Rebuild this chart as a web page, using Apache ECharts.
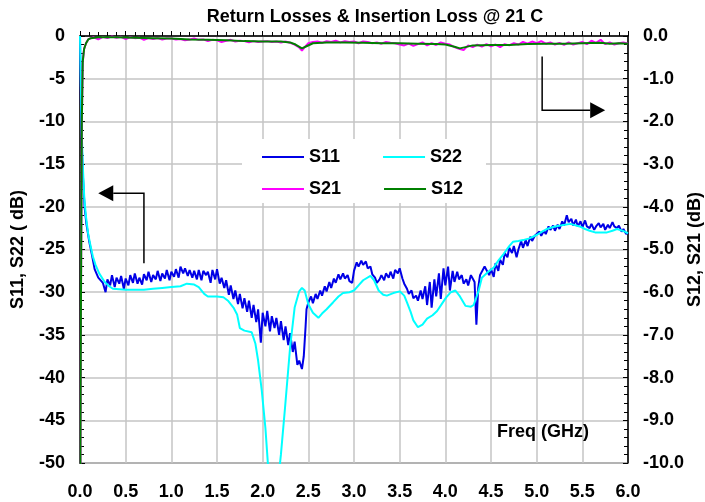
<!DOCTYPE html>
<html><head><meta charset="utf-8">
<script src="https://cdn.jsdelivr.net/npm/echarts@6/dist/echarts.min.js"></script>
<style>html,body{margin:0;padding:0;background:#fff}#c{width:705px;height:502px}</style>
</head><body><div id="c"></div><script>
// Frequency (GHz), dB — left axis series
const s11 = [[0,0],[0.01,-8],[0.02,-13],[0.03,-16],[0.05,-20],[0.07,-22],[0.1,-24],[0.13,-25.6],[0.16,-27.3],[0.2,-28.3],[0.25,-28.9],[0.28,-30],[0.3,-28.5],[0.33,-29.2],[0.35,-28],[0.38,-29.4],[0.4,-28.3],[0.43,-29],[0.45,-28.1],[0.48,-29.6],[0.5,-28.4],[0.53,-29.2],[0.55,-28],[0.58,-28.9],[0.6,-27.8],[0.63,-29],[0.65,-28.3],[0.68,-29.1],[0.7,-27.9],[0.73,-28.6],[0.75,-27.6],[0.78,-28.8],[0.8,-28],[0.83,-28.5],[0.85,-27.5],[0.88,-28.7],[0.9,-27.8],[0.93,-28.4],[0.95,-27.4],[0.98,-28.6],[1,-27.6],[1.03,-28.2],[1.05,-27.3],[1.08,-28.3],[1.1,-27],[1.13,-27.8],[1.15,-27.2],[1.18,-28.1],[1.2,-27.4],[1.23,-28.3],[1.25,-27.5],[1.28,-28.5],[1.3,-27.4],[1.33,-28.6],[1.35,-27.5],[1.38,-28],[1.4,-27.6],[1.43,-28.9],[1.45,-27.4],[1.48,-28.5],[1.5,-27.3],[1.53,-29],[1.55,-28.3],[1.58,-29.5],[1.6,-28.6],[1.63,-30.3],[1.65,-29.2],[1.68,-30.8],[1.7,-29.8],[1.73,-31.4],[1.75,-30.2],[1.78,-31.9],[1.8,-30.7],[1.83,-32.3],[1.85,-31],[1.88,-33],[1.9,-31.5],[1.93,-33.5],[1.95,-32],[1.98,-35.9],[2,-32.4],[2.03,-34],[2.05,-32.2],[2.08,-34.6],[2.1,-32.8],[2.13,-34.2],[2.15,-33],[2.18,-35],[2.2,-33.4],[2.23,-35.6],[2.25,-34],[2.28,-36.2],[2.3,-34.8],[2.33,-37],[2.35,-35.8],[2.38,-38.5],[2.4,-38],[2.43,-39],[2.45,-37.5],[2.47,-34],[2.48,-32],[2.5,-31.2],[2.53,-30.5],[2.55,-31.3],[2.58,-30.2],[2.6,-30.8],[2.63,-29.8],[2.65,-30.4],[2.68,-29.3],[2.7,-29.9],[2.73,-28.8],[2.75,-29.5],[2.78,-28.4],[2.8,-28.9],[2.83,-27.9],[2.85,-28.5],[2.88,-27.8],[2.9,-28.4],[2.93,-28],[2.95,-28.7],[2.98,-28.9],[3,-27.5],[3.03,-26.5],[3.05,-27],[3.08,-26.3],[3.1,-26.8],[3.13,-26.4],[3.15,-27.2],[3.18,-27],[3.2,-27.9],[3.23,-28.3],[3.25,-28.9],[3.28,-28.5],[3.3,-28],[3.33,-28.6],[3.35,-27.8],[3.38,-28.3],[3.4,-27.6],[3.43,-28.4],[3.45,-27.4],[3.48,-27.8],[3.5,-27.2],[3.53,-28.4],[3.55,-29],[3.58,-29.6],[3.6,-30.2],[3.63,-29.8],[3.65,-30.7],[3.68,-30.4],[3.7,-31],[3.73,-29.8],[3.75,-30.8],[3.78,-29.3],[3.8,-31.5],[3.83,-28.8],[3.85,-31.8],[3.88,-28.5],[3.9,-30.5],[3.93,-27.8],[3.95,-30.8],[3.98,-27.2],[4,-29.2],[4.03,-27],[4.05,-29.8],[4.08,-27.5],[4.1,-28.8],[4.13,-27.6],[4.15,-28.5],[4.18,-28],[4.2,-29],[4.23,-28.5],[4.25,-29.2],[4.28,-28],[4.3,-27.8],[4.32,-28.8],[4.34,-33.8],[4.36,-29.5],[4.38,-28],[4.4,-27.8],[4.43,-27],[4.45,-26.9],[4.48,-28],[4.5,-27.3],[4.53,-28.2],[4.55,-26.6],[4.58,-27.5],[4.6,-26.2],[4.63,-26.8],[4.65,-25.4],[4.68,-25.9],[4.7,-24.8],[4.73,-25.4],[4.75,-24.6],[4.78,-25.9],[4.8,-25],[4.83,-24],[4.85,-24.8],[4.88,-23.9],[4.9,-24.6],[4.93,-23.5],[4.95,-24],[4.98,-23.4],[5,-23.6],[5.03,-22.9],[5.05,-23.4],[5.08,-22.8],[5.1,-23.2],[5.13,-22.3],[5.15,-22.7],[5.18,-22.2],[5.2,-22.8],[5.23,-22.1],[5.25,-22.6],[5.28,-21.7],[5.3,-22.2],[5.33,-21],[5.35,-21.8],[5.38,-21.4],[5.4,-22.2],[5.43,-21.5],[5.45,-22.3],[5.48,-21.7],[5.5,-22.4],[5.53,-21.6],[5.55,-22.3],[5.58,-22.5],[5.6,-22],[5.63,-22.7],[5.65,-22.3],[5.68,-21.9],[5.7,-22.4],[5.73,-22],[5.75,-22.7],[5.78,-22.1],[5.8,-22.5],[5.83,-21.8],[5.85,-22.3],[5.88,-22.5],[5.9,-22.2],[5.93,-22.9],[5.95,-22.6],[5.98,-23.2],[6,-23]];
const s22 = [[0,0],[0.005,-3],[0.01,-6],[0.018,-11],[0.03,-15],[0.047,-19],[0.066,-21.2],[0.09,-23.2],[0.11,-24.3],[0.14,-25.8],[0.17,-26.8],[0.21,-27.8],[0.27,-28.8],[0.32,-29.3],[0.36,-29.6],[0.5,-29.7],[0.7,-29.7],[0.8,-29.6],[0.9,-29.5],[1,-29.4],[1.1,-29.3],[1.17,-29],[1.25,-29.1],[1.3,-29.4],[1.36,-30.2],[1.4,-30.5],[1.5,-30.5],[1.57,-30.6],[1.62,-31],[1.68,-31.8],[1.72,-32.6],[1.75,-34.2],[1.8,-34.5],[1.88,-34.7],[1.92,-36],[1.95,-38],[1.99,-41.5],[2.03,-45.9],[2.06,-50.5],[2.1,-54],[2.14,-55],[2.17,-52],[2.2,-49],[2.245,-43.5],[2.3,-36.5],[2.35,-31.8],[2.4,-29.9],[2.43,-29.5],[2.46,-29.8],[2.5,-31.4],[2.55,-32.4],[2.61,-33],[2.65,-32.5],[2.7,-32],[2.77,-31.2],[2.83,-30.5],[2.88,-30.1],[2.95,-30],[3,-29.8],[3.05,-29.2],[3.1,-28.6],[3.18,-28.1],[3.22,-28.6],[3.27,-29.8],[3.32,-30.3],[3.36,-30.4],[3.43,-30.1],[3.5,-29.9],[3.55,-30.4],[3.58,-31.2],[3.62,-32.3],[3.65,-33.3],[3.7,-34.1],[3.75,-33.8],[3.8,-33.1],[3.86,-32.7],[3.91,-32.2],[3.96,-31.4],[4.01,-30.6],[4.06,-30],[4.11,-29.8],[4.16,-30.5],[4.22,-31.6],[4.28,-31.7],[4.31,-31.5],[4.36,-30],[4.4,-28.3],[4.47,-27.6],[4.53,-27.1],[4.58,-26.3],[4.64,-25.5],[4.7,-24.6],[4.74,-24.1],[4.8,-24],[4.85,-23.9],[4.92,-23.7],[5,-23.3],[5.06,-22.9],[5.11,-22.6],[5.2,-22.3],[5.26,-22.2],[5.37,-22],[5.47,-22.3],[5.53,-22.6],[5.58,-22.8],[5.64,-23],[5.7,-23],[5.77,-23],[5.83,-22.8],[5.88,-22.6],[5.94,-22.8],[6,-23.1]];
// right axis series
const s21 = [[0,-12],[0.005,-10],[0.01,-6.5],[0.02,-2],[0.03,-0.6],[0.045,-0.3],[0.066,-0.17],[0.09,-0.08],[0.12,-0.05],[0.15,-0.03],[0.2,-0.08],[0.25,-0.02],[0.3,-0.05],[0.35,-0.01],[0.4,-0.04],[0.45,-0.02],[0.5,-0.07],[0.55,-0.03],[0.6,-0.05],[0.65,-0.04],[0.7,-0.09],[0.75,-0.05],[0.8,-0.07],[0.85,-0.05],[0.9,-0.08],[0.95,-0.06],[1,-0.06],[1.05,-0.08],[1.1,-0.07],[1.15,-0.1],[1.2,-0.08],[1.25,-0.06],[1.3,-0.09],[1.35,-0.08],[1.4,-0.12],[1.45,-0.09],[1.5,-0.1],[1.55,-0.14],[1.6,-0.11],[1.65,-0.09],[1.7,-0.13],[1.75,-0.11],[1.8,-0.12],[1.85,-0.15],[1.9,-0.12],[1.95,-0.14],[2,-0.13],[2.05,-0.12],[2.1,-0.14],[2.15,-0.13],[2.2,-0.15],[2.25,-0.13],[2.3,-0.16],[2.35,-0.2],[2.4,-0.27],[2.43,-0.34],[2.46,-0.26],[2.5,-0.17],[2.55,-0.14],[2.6,-0.13],[2.65,-0.16],[2.7,-0.12],[2.75,-0.14],[2.8,-0.11],[2.85,-0.15],[2.9,-0.12],[2.95,-0.14],[3,-0.13],[3.05,-0.17],[3.1,-0.13],[3.15,-0.14],[3.2,-0.17],[3.25,-0.15],[3.3,-0.18],[3.35,-0.14],[3.4,-0.16],[3.45,-0.17],[3.5,-0.2],[3.55,-0.22],[3.6,-0.18],[3.65,-0.23],[3.7,-0.19],[3.75,-0.15],[3.8,-0.22],[3.85,-0.17],[3.9,-0.21],[3.95,-0.15],[4,-0.18],[4.05,-0.2],[4.1,-0.26],[4.15,-0.3],[4.2,-0.33],[4.25,-0.22],[4.3,-0.26],[4.35,-0.2],[4.4,-0.25],[4.45,-0.19],[4.5,-0.24],[4.55,-0.2],[4.6,-0.26],[4.65,-0.19],[4.7,-0.22],[4.75,-0.17],[4.8,-0.2],[4.85,-0.14],[4.9,-0.18],[4.95,-0.13],[5,-0.17],[5.05,-0.12],[5.1,-0.18],[5.15,-0.15],[5.2,-0.2],[5.25,-0.16],[5.3,-0.21],[5.35,-0.15],[5.4,-0.2],[5.45,-0.17],[5.5,-0.14],[5.55,-0.19],[5.6,-0.11],[5.65,-0.16],[5.7,-0.09],[5.75,-0.19],[5.8,-0.15],[5.85,-0.2],[5.9,-0.17],[5.95,-0.15],[6,-0.18]];
const s12 = [[0,-12],[0.005,-10],[0.01,-6.5],[0.02,-2],[0.03,-0.6],[0.045,-0.3],[0.066,-0.17],[0.09,-0.08],[0.12,-0.05],[0.2,-0.03],[0.4,-0.03],[0.6,-0.04],[0.8,-0.05],[1,-0.06],[1.2,-0.08],[1.4,-0.09],[1.6,-0.1],[1.8,-0.12],[2,-0.13],[2.2,-0.13],[2.3,-0.15],[2.36,-0.2],[2.43,-0.29],[2.48,-0.24],[2.55,-0.17],[2.7,-0.15],[2.9,-0.15],[3.1,-0.16],[3.3,-0.17],[3.5,-0.17],[3.7,-0.18],[3.9,-0.19],[4,-0.2],[4.1,-0.25],[4.16,-0.29],[4.22,-0.26],[4.3,-0.22],[4.5,-0.21],[4.7,-0.21],[4.9,-0.19],[5.1,-0.18],[5.3,-0.18],[5.5,-0.17],[5.7,-0.16],[5.8,-0.18],[5.9,-0.17],[6,-0.18]];
// annotation arrows (GHz, left-axis dB)
const arrowLeft = [[0.70,-26.6],[0.70,-18.4],[0.20,-18.4]];
const arrowRight = [[5.06,-2.4],[5.06,-8.7],[5.75,-8.7]];
const arrows = [arrowLeft, arrowRight];

const FF = 'Arial, "Liberation Sans", sans-serif';
const chart = echarts.init(document.getElementById('c'), null, {renderer:'canvas'});
const lblStyle = {color:'#000', fontWeight:'bold', fontSize:18, fontFamily:FF};
chart.setOption({
  animation:false,
  backgroundColor:'#fff',
  title:{text:'Return Losses & Insertion Loss @ 21 C', left:370, top:3, textAlign:'center',
    textStyle:{color:'#000', fontWeight:'bold', fontSize:18, fontFamily:FF}},
  grid:{left:80, right:77, top:36, bottom:39, show:true, borderColor:'#000', borderWidth:1, backgroundColor:'#fff',
    containLabel:false, outerBoundsMode:'none'},
  legend:[
    {data:['S11','S22'], left:256, top:143, itemWidth:42, itemHeight:14, itemGap:42, itemStyle:{opacity:0}, textStyle:lblStyle, z:5},
    {data:['S21','S12'], left:256, top:175, itemWidth:42, itemHeight:14, itemGap:42, itemStyle:{opacity:0}, textStyle:lblStyle, z:5}
  ],
  graphic:[
    {type:'rect', z:3, shape:{x:242, y:139, width:244, height:64}, style:{fill:'#fff'}},
    {type:'text', z:5, x:497, y:432, style:{text:'Freq (GHz)', fill:'#000', font:'bold 18px '+FF, textVerticalAlign:'middle'}}
  ],
  xAxis:{type:'value', min:0, max:6, interval:0.5,
    axisLine:{lineStyle:{color:'#000', width:1.5}},
    axisTick:{inside:true, length:5, lineStyle:{color:'#000'}},
    minorTick:{show:true, splitNumber:5, length:4, lineStyle:{color:'#000'}},
    splitLine:{show:true, lineStyle:{color:'#c4c4c4', width:1.5}},
    axisLabel:{...lblStyle, margin:20, formatter:v=>v.toFixed(1)}},
  yAxis:[
    {type:'value', min:-50, max:0, interval:5, position:'left',
      name:'S11, S22 ( dB)', nameLocation:'middle', nameGap:53, nameRotate:90, nameTextStyle:lblStyle,
      axisLine:{show:true, lineStyle:{color:'#000', width:1.5}},
      axisTick:{show:true, inside:true, length:5, lineStyle:{color:'#000'}},
      minorTick:{show:true, splitNumber:5, length:4, lineStyle:{color:'#000'}},
      splitLine:{show:true, lineStyle:{color:'#c4c4c4', width:1.5}},
      axisLabel:{...lblStyle, margin:15}},
    {type:'value', min:-10, max:0, interval:1, position:'right',
      name:'S12, S21 (dB)', nameLocation:'middle', nameGap:58, nameRotate:90, nameMoveOverlap:false, nameTextStyle:lblStyle,
      axisLine:{show:true, lineStyle:{color:'#000', width:1.5}},
      axisTick:{show:true, inside:true, length:5, lineStyle:{color:'#000'}},
      minorTick:{show:true, splitNumber:5, length:4, lineStyle:{color:'#000'}},
      splitLine:{show:false},
      axisLabel:{...lblStyle, margin:15, formatter:v=>v.toFixed(1)}}
  ],
  series:[
    {name:'S11', type:'line', data:s11, yAxisIndex:0, symbol:'none', lineStyle:{color:'#0000e6', width:2}, itemStyle:{color:'#0000e6'}, z:2},
    {name:'S22', type:'line', data:s22, yAxisIndex:0, symbol:'none', lineStyle:{color:'#00ffff', width:2}, itemStyle:{color:'#00ffff'}, z:2},
    {name:'S21', type:'line', data:s21, yAxisIndex:1, symbol:'none', lineStyle:{color:'#ff00ff', width:2}, itemStyle:{color:'#ff00ff'}, z:2},
    {name:'S12', type:'line', data:s12, yAxisIndex:1, symbol:'none', lineStyle:{color:'#008000', width:2}, itemStyle:{color:'#008000'}, z:2},
    {type:'custom', name:'arrows', yAxisIndex:0, clip:false, silent:true, z:6,
      data:[[0,0],[1,0]],
      renderItem:function(params, api){
        const pts = arrows[params.dataIndex].map(p=>api.coord(p));
        const n = pts.length;
        const tip = pts[n-1], prev = pts[n-2];
        const dx = tip[0]-prev[0], dy = tip[1]-prev[1];
        const len = Math.sqrt(dx*dx+dy*dy); const ux = dx/len, uy = dy/len;
        const L = 15, W = 8;
        const base = [tip[0]-ux*L, tip[1]-uy*L];
        const line = pts.slice(0, n-1).concat([base]);
        return {type:'group', children:[
          {type:'polyline', shape:{points:line}, style:{stroke:'#000', lineWidth:1.5, fill:null}},
          {type:'polygon', shape:{points:[tip,[base[0]-uy*W, base[1]+ux*W],[base[0]+uy*W, base[1]-ux*W]]}, style:{fill:'#000'}}
        ]};
      }}
  ]
});
</script></body></html>
